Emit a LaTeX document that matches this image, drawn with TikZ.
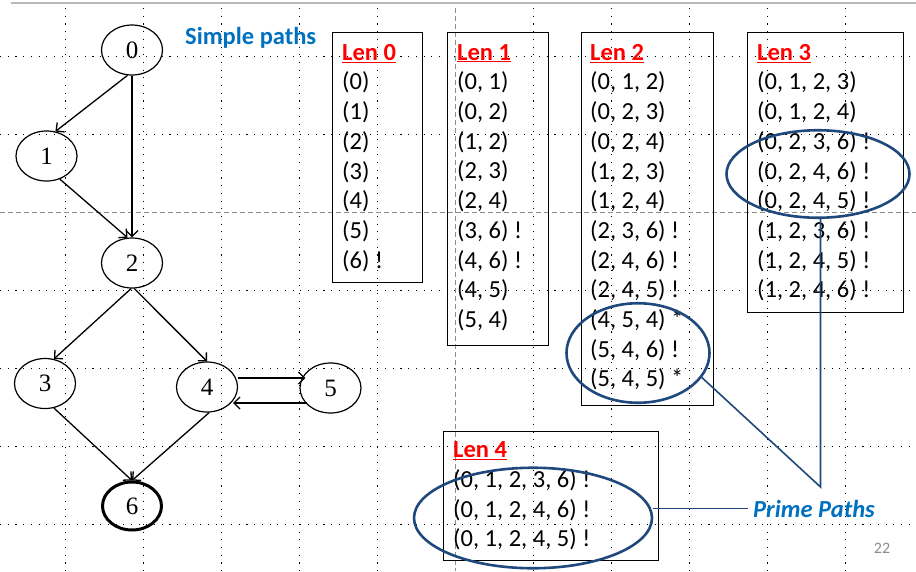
\documentclass[tikz,border=0pt]{standalone}
\usepackage{fontspec}
\setmainfont{Carlito}
\newfontfamily\vertexfont{Liberation Serif}
\usetikzlibrary{arrows.meta}
\usetikzlibrary{shapes.geometric}

\definecolor{titleblue}{RGB}{0,112,192}
\definecolor{ringblue}{RGB}{31,73,125}
\definecolor{pagegray}{RGB}{140,140,140}

\newcommand{\lenhead}[1]{\textcolor{red}{\bfseries\underline{#1}}}

\begin{document}
\begin{tikzpicture}[x=1pt,y=-1pt,
		gridline/.style={line width=1.1pt,dash pattern=on 1.1pt off 6.6pt},
		centerline/.style={black!45,line width=0.8pt,dash pattern=on 5pt off 3pt},
		vertex/.style={ellipse,draw,line width=1.2pt,minimum width=61pt,minimum height=50pt,inner sep=0pt,font=\vertexfont\fontsize{25}{25}\selectfont},
		edge/.style={line width=1.3pt,-{Straight Barb[length=6pt,width=12pt]}},
		lenframe/.style={draw,line width=1pt,anchor=north west,inner sep=0pt},
		pathlist/.style={anchor=north west,align=left,inner sep=0pt,font=\fontsize{24.5}{29.7}\selectfont},
		ring/.style={ellipse,draw=ringblue,line width=2.6pt,inner sep=0pt},
		primeline/.style={draw=ringblue,line width=1.6pt},
		titletext/.style={text=titleblue,inner sep=0pt,font=\fontsize{24.5}{29}\selectfont\bfseries}
	]
	\useasboundingbox[fill=white] (0,0) rectangle (916,571);
	
	% background grid
	\foreach \gx in {0,1,2,3,4,6,7,8,9,10}
		\draw[gridline] ({65.5+78*\gx},8) -- ({65.5+78*\gx},571);
	\foreach \gy in {0,1,3,4,5,6}
		\draw[gridline] (0,{56.5+78*\gy}) -- (916,{56.5+78*\gy});
	\draw[centerline] (455.5,8) -- (455.5,571);
	\draw[centerline] (0,212.5) -- (916,212.5);
	\draw[gray!55,line width=2pt] (11,2.5) -- (916,2.5);
	
	% graph
	\node[vertex] (n0) at (132,50) {0};
	\node[vertex] (n1) at (46.5,156) {1};
	\node[vertex] (n2) at (132,263) {2};
	\node[vertex] (n3) at (45,383.5) {3};
	\node[vertex] (n4) at (207,387) {4};
	\node[vertex] (n5) at (330.5,388) {5};
	\node[vertex,line width=3pt,minimum width=59pt,minimum height=48pt] (n6) at (132,506) {6};
	
	\draw[edge] (n0.-100) -- (n1.70);
	\draw[edge] (n0) -- (n2);
	\draw[edge] (n1.-60) -- (n2.100);
	\draw[edge] (n2.-92) -- (n3.70);
	\draw[edge] (n2.-85) -- (n4.north);
	\draw[edge] ([yshift=9pt]n4.east) -- ([yshift=9pt,xshift=6pt]n4.east -| n5.west);
	\draw[edge] ([yshift=-15pt,xshift=8pt]n5.west) -- ([yshift=-15pt,xshift=-5pt]n5.west -| n4.east);
	\draw[edge] (n3.-70) -- (n6.north);
	\draw[edge] (n4.-85) -- (n6.north);
	
	\node[titletext,anchor=base west] (simple) at (185,44.5) {Simple paths};
	
	% path lists
	\node[lenframe,minimum width=90pt,minimum height=250pt] (box0) at (332,32) {};
	\node[lenframe,minimum width=101pt,minimum height=313pt] (box1) at (447,32) {};
	\node[lenframe,minimum width=132pt,minimum height=373pt] (box2) at (581,32) {};
	\node[lenframe,minimum width=156pt,minimum height=280pt] (box3) at (747,32) {};
	\node[lenframe,minimum width=215pt,minimum height=129pt] (box4) at (443,431) {};
	
	\node[pathlist] (list0) at (342,44) {\lenhead{Len 0}\\(0)\\(1)\\(2)\\(3)\\(4)\\(5)\\(6) !};
	\node[pathlist] (list1) at (457,44) {\lenhead{Len 1}\\(0, 1)\\(0, 2)\\(1, 2)\\(2, 3)\\(2, 4)\\(3, 6) !\\(4, 6) !\\(4, 5)\\(5, 4)};
	\node[pathlist] (list2) at (590,44) {\lenhead{Len 2}\\(0, 1, 2)\\(0, 2, 3)\\(0, 2, 4)\\(1, 2, 3)\\(1, 2, 4)\\(2, 3, 6) !\\(2, 4, 6) !\\(2, 4, 5) !\\(4, 5, 4) *\\(5, 4, 6) !\\(5, 4, 5) *};
	\node[pathlist] (list3) at (757,44) {\lenhead{Len 3}\\(0, 1, 2, 3)\\(0, 1, 2, 4)\\(0, 2, 3, 6) !\\(0, 2, 4, 6) !\\(0, 2, 4, 5) !\\(1, 2, 3, 6) !\\(1, 2, 4, 5) !\\(1, 2, 4, 6) !};
	\node[pathlist] (list4) at (453,441.5) {\lenhead{Len 4}\\(0, 1, 2, 3, 6) !\\(0, 1, 2, 4, 6) !\\(0, 1, 2, 4, 5) !};
	
	% prime paths
	\node[ring,minimum width=183pt,minimum height=87.5pt] (ring3) at (818,174) {};
	\node[ring,minimum width=143pt,minimum height=99.5pt] (ring2) at (638,353) {};
	\node[ring,minimum width=238pt,minimum height=100.5pt] (ring4) at (533,518) {};
	
	\coordinate (elbow) at (820.5,487);
	\node[titletext,font=\fontsize{24.5}{29}\selectfont\bfseries\itshape,inner xsep=5pt,anchor=base west] (prime) at (748,517) {Prime Paths};
	\draw[primeline] (elbow |- ring3.south) -- (elbow) -- (ring2.-21);
	\draw[primeline] (prime.west) -- (prime.west -| ring4.east);
	
	\node[text=pagegray,font=\fontsize{16}{16}\selectfont,inner sep=0pt] (page) at (882,548) {22};
\end{tikzpicture}
\end{document}
